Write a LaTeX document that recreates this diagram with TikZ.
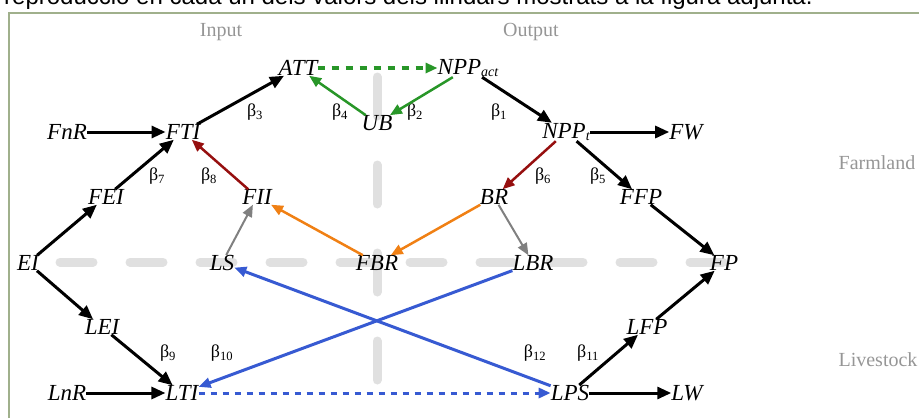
\documentclass[tikz,border=0pt]{standalone}
\usepackage{fontspec}
\setmainfont{Liberation Serif}
\newfontfamily\captionfont{Liberation Sans}
\usetikzlibrary{positioning,arrows.meta}

\definecolor{framegreen}{RGB}{160,176,140}
\definecolor{guidegrey}{RGB}{224,224,224}
\definecolor{labelgrey}{RGB}{150,150,150}
\definecolor{flowgreen}{RGB}{40,150,40}
\definecolor{flowred}{RGB}{150,15,15}
\definecolor{floworange}{RGB}{240,128,20}
\definecolor{flowgrey}{RGB}{128,128,128}
\definecolor{flowblue}{RGB}{55,90,210}

\newcommand{\varsub}[1]{\raisebox{-0.12em}{\fontsize{14}{15}\selectfont #1}}

\begin{document}
\begin{tikzpicture}[
        x=1pt, y=-1pt,
        var/.style={
            font=\fontsize{23}{25}\selectfont\itshape,
            inner sep=0pt
        },
        beta/.style={
            font=\fontsize{18}{20}\selectfont
        },
        region/.style={
            font=\fontsize{20}{22}\selectfont,
            text=labelgrey
        },
        guide/.style={
            line width=9pt,
            guidegrey,
            line cap=round
        },
        arrow/.style={
            -{Triangle[length=14pt,width=12pt]},
            line width=3pt
        },
        thinarrow/.style={
            -{Triangle[length=12pt,width=10pt]},
            line width=2.5pt
        }
    ]

    \useasboundingbox (0,0) rectangle (919,418);

    % Cut-off caption line above the frame
    \begin{scope}
        \clip (0,0) rectangle (919,9);
        \node[anchor=base west, inner sep=0pt, font=\captionfont\fontsize{24}{26}\selectfont] (caption) at (4,4)
            {reproducció en cada un dels valors dels llindars mostrats a la figura adjunta.};
    \end{scope}

    % Frame
    \draw[framegreen, line width=1.3pt] (9,418) -- (9,13) -- (919,13);

    % Grey guide lines
    \draw[guide, dash pattern=on 33pt off 37pt] (60,262) -- (745,262);
    \draw[guide, dash pattern=on 39pt off 49pt] (377,77) -- (377,395);

    % Region labels
    \node[region] (input) at (221,32) {Input};
    \node[region] (output) at (531,32) {Output};
    \node[region] (farmland) at (877,163) {Farmland};
    \node[region] (livestock) at (878,360) {Livestock};

    % Farmland variables
    \node[var] (att) at (298,68) {ATT};
    \node[var] (nppact) at (468,68) {NPP\varsub{act}};
    \node[var] (ub) at (377,123) {UB};
    \node[var] (fnr) at (67,132) {FnR};
    \node[var] (fti) at (183,132) {FTI};
    \node[var] (nppt) at (566,132) {NPP\varsub{t}};
    \node[var] (fw) at (686,132) {FW};
    \node[var] (fei) at (106,197) {FEI};
    \node[var] (fii) at (257,197) {FII};
    \node[var] (br) at (494,197) {BR};
    \node[var] (ffp) at (641,197) {FFP};

    % Middle row
    \node[var] (ei) at (28,263) {EI};
    \node[var] (ls) at (222,263) {LS};
    \node[var] (fbr) at (377,263) {FBR};
    \node[var] (lbr) at (533,263) {LBR};
    \node[var] (fp) at (724,263) {FP};

    % Livestock variables
    \node[var] (lei) at (102,327) {LEI};
    \node[var] (lfp) at (647,327) {LFP};
    \node[var] (lnr) at (67,393) {LnR};
    \node[var] (lti) at (182,393) {LTI};
    \node[var] (lps) at (570,393) {LPS};
    \node[var] (lw) at (687,393) {LW};

    % Coefficients
    \node[beta] (b1) at (499,112) {β\textsubscript{1}};
    \node[beta] (b2) at (415,112) {β\textsubscript{2}};
    \node[beta] (b3) at (255,112) {β\textsubscript{3}};
    \node[beta] (b4) at (340,112) {β\textsubscript{4}};
    \node[beta] (b5) at (598,176) {β\textsubscript{5}};
    \node[beta] (b6) at (543,176) {β\textsubscript{6}};
    \node[beta] (b7) at (157,176) {β\textsubscript{7}};
    \node[beta] (b8) at (209,176) {β\textsubscript{8}};
    \node[beta] (b9) at (168,353) {β\textsubscript{9}};
    \node[beta] (b10) at (222,353) {β\textsubscript{10}};
    \node[beta] (b11) at (588,353) {β\textsubscript{11}};
    \node[beta] (b12) at (535,353) {β\textsubscript{12}};

    % Black connections
    \draw[arrow] (fnr) -- (fti);
    \draw[arrow] (fei) -- (fti);
    \draw[arrow] (ei) -- (fei);
    \draw[arrow] (ei) -- (lei);
    \draw[arrow] (lei) -- (lti);
    \draw[arrow] (lnr) -- (lti);
    \draw[arrow] (fti) -- (att);
    \draw[arrow] (nppact) -- (nppt);
    \draw[arrow] (nppt) -- (fw);
    \draw[arrow] (nppt) -- (ffp);
    \draw[arrow] (ffp) -- (fp);
    \draw[arrow] (lfp) -- (fp);
    \draw[arrow] (lps) -- (lfp);
    \draw[arrow] (lps) -- (lw);

    % Coloured connections
    \draw[thinarrow, flowgreen, line width=3.5pt, dash pattern=on 7pt off 7pt] (att) -- (nppact);
    \draw[thinarrow, flowgreen] (nppact) -- (ub);
    \draw[thinarrow, flowgreen] (ub) -- (att);
    \draw[thinarrow, flowred] (fii) -- (fti);
    \draw[thinarrow, flowred] (nppt) -- (br);
    \draw[thinarrow, floworange] (fbr) -- (fii);
    \draw[thinarrow, floworange] (br) -- (fbr);
    \draw[thinarrow, flowgrey, line width=2pt] (ls) -- (fii);
    \draw[thinarrow, flowgrey, line width=2pt] (br) -- (lbr);
    \draw[thinarrow, flowblue, line width=3pt] (lbr) -- (lti);
    \draw[thinarrow, flowblue, line width=3pt] (lps) -- (ls);
    \draw[thinarrow, flowblue, line width=3pt, dash pattern=on 6pt off 6pt] (lti) -- (lps);

\end{tikzpicture}
\end{document}
